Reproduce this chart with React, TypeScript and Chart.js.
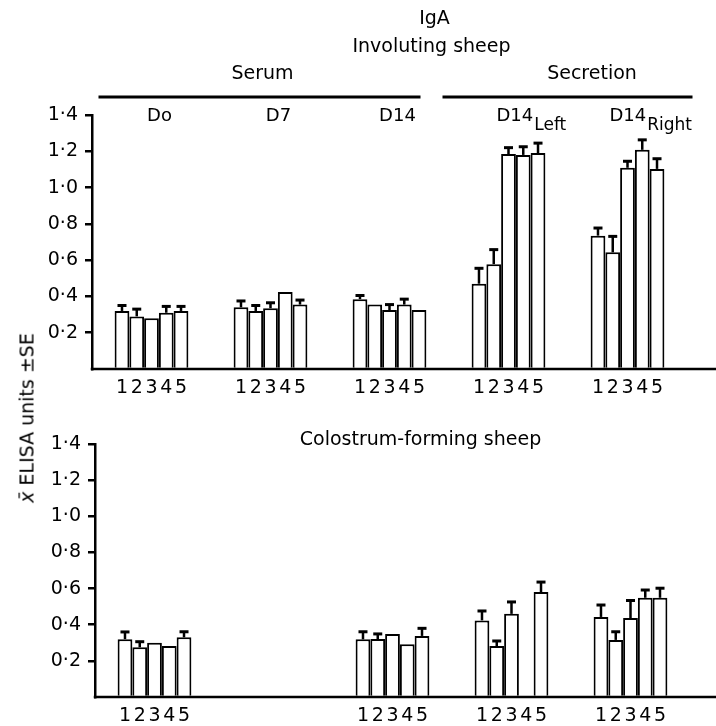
import React, { useEffect, useRef } from 'react';
import { Chart, registerables } from 'chart.js';

Chart.register(...registerables);

const FONT = '"DejaVu Sans", sans-serif';

// Categories
const groupLabels = ['Do', 'D7', 'D14', 'D14', 'D14'];
const groupSubscripts = ['', '', '', 'Left', 'Right'];
const animalLabels = ['1', '2', '3', '4', '5'];
const yTickValues = [0, 0.2, 0.4, 0.6, 0.8, 1.0, 1.2, 1.4];
const Y_MAX = 1.4;

// Involuting sheep (top panel), mean ELISA units for animals 1-5, and SE
const invDo = [0.32, 0.29, 0.28, 0.31, 0.32];
const invDoSE = [0.03, 0.04, 0, 0.035, 0.025];
const invD7 = [0.34, 0.32, 0.335, 0.425, 0.355];
const invD7SE = [0.035, 0.03, 0.03, 0, 0.025];
const invD14 = [0.385, 0.355, 0.325, 0.355, 0.325];
const invD14SE = [0.02, 0, 0.03, 0.03, 0];
const invD14Left = [0.47, 0.578, 1.185, 1.18, 1.19];
const invD14LeftSE = [0.085, 0.08, 0.035, 0.045, 0.055];
const invD14Right = [0.735, 0.643, 1.109, 1.208, 1.103];
const invD14RightSE = [0.042, 0.088, 0.036, 0.055, 0.056];

// Colostrum-forming sheep (bottom panel)
const colDo = [0.32, 0.275, 0.3, 0.282, 0.33];
const colDoSE = [0.04, 0.031, 0, 0, 0.031];
const colD7: (number | null)[] = [null, null, null, null, null];
const colD7SE = [0, 0, 0, 0, 0];
const colD14 = [0.319, 0.321, 0.349, 0.292, 0.338];
const colD14SE = [0.042, 0.028, 0, 0, 0.042];
const colD14Left: (number | null)[] = [0.424, 0.282, 0.46, null, 0.581];
const colD14LeftSE = [0.052, 0.028, 0.066, 0, 0.055];
const colD14Right = [0.443, 0.316, 0.437, 0.549, 0.549];
const colD14RightSE = [0.066, 0.045, 0.097, 0.043, 0.053];

const invMeans = [invDo, invD7, invD14, invD14Left, invD14Right];
const invSEs = [invDoSE, invD7SE, invD14SE, invD14LeftSE, invD14RightSE];
const colMeans = [colDo, colD7, colD14, colD14Left, colD14Right];
const colSEs = [colDoSE, colD7SE, colD14SE, colD14LeftSE, colD14RightSE];

type PanelLayout = {
  padTop: number;
  padRight: number;
  axisWidth: number;
  xHeight: number;
};

function buildChart(
  canvas: HTMLCanvasElement,
  means: (number | null)[][],
  ses: number[][],
  lay: PanelLayout,
  drawHeaders: (chart: any, ctx: CanvasRenderingContext2D) => void
) {
  const datasets = animalLabels.map((a, i) => ({
    label: 'Animal ' + a,
    data: means.map((g) => g[i]),
    backgroundColor: '#ffffff',
    borderColor: '#000000',
    borderWidth: 2,
    categoryPercentage: 0.62,
    barPercentage: 1,
  }));

  const extras = {
    id: 'extras',
    afterDatasetsDraw(chart: any) {
      const ctx: CanvasRenderingContext2D = chart.ctx;
      const ys = chart.scales.y;
      const a = chart.chartArea;
      ctx.save();
      ctx.strokeStyle = '#000';
      for (let i = 0; i < animalLabels.length; i++) {
        const meta = chart.getDatasetMeta(i);
        for (let j = 0; j < means.length; j++) {
          const m = means[j][i];
          const se = ses[j][i];
          if (m == null || !se) continue;
          const x = meta.data[j].x;
          const y0 = ys.getPixelForValue(m);
          const y1 = ys.getPixelForValue(m + se);
          ctx.lineWidth = 2.5;
          ctx.beginPath();
          ctx.moveTo(x, y0);
          ctx.lineTo(x, y1);
          ctx.stroke();
          ctx.lineWidth = 3;
          ctx.beginPath();
          ctx.moveTo(x - 4.5, y1);
          ctx.lineTo(x + 4.5, y1);
          ctx.stroke();
        }
      }
      // baseline (x axis line) across to the right edge
      ctx.lineWidth = 2.5;
      ctx.beginPath();
      ctx.moveTo(a.left - 1.25, a.bottom);
      ctx.lineTo(chart.width, a.bottom);
      ctx.stroke();
      ctx.restore();
    },
    afterDraw(chart: any) {
      const ctx: CanvasRenderingContext2D = chart.ctx;
      const a = chart.chartArea;
      ctx.save();
      // animal numbers under bars
      ctx.fillStyle = '#000';
      ctx.font = `19px ${FONT}`;
      ctx.textAlign = 'center';
      ctx.textBaseline = 'middle';
      for (let j = 0; j < means.length; j++) {
        if (!means[j].some((v) => v != null)) continue;
        for (let i = 0; i < animalLabels.length; i++) {
          const el = chart.getDatasetMeta(i).data[j];
          ctx.fillText(animalLabels[i], el.x, a.bottom + 19);
        }
      }
      drawHeaders(chart, ctx);
      ctx.restore();
    },
  };

  return new Chart(canvas, {
    type: 'bar',
    data: {
      labels: groupLabels.map((g, j) => g + groupSubscripts[j]),
      datasets,
    },
    options: {
      responsive: false,
      animation: false,
      layout: { padding: { top: lay.padTop, right: lay.padRight, left: 0, bottom: 0 } },
      plugins: {
        legend: { display: false },
        tooltip: { enabled: false },
        title: { display: false },
      },
      scales: {
        x: {
          type: 'category',
          ticks: { display: false },
          grid: { display: false },
          border: { display: false },
          afterFit: (s: any) => {
            s.height = lay.xHeight;
          },
        },
        y: {
          type: 'linear',
          min: 0,
          max: Y_MAX,
          afterBuildTicks: (s: any) => {
            s.ticks = yTickValues.map((v) => ({ value: v }));
          },
          ticks: {
            color: '#000',
            font: { family: FONT, size: 19 },
            padding: 7,
            callback: (v: any) => (Number(v) === 0 ? '' : Number(v).toFixed(1).replace('.', '·')),
          },
          grid: {
            drawOnChartArea: false,
            drawTicks: true,
            tickLength: 7,
            lineWidth: 2.5,
            color: (c: any) => (c.tick && c.tick.value === 0 ? 'rgba(0,0,0,0)' : '#000'),
          },
          border: { display: true, color: '#000', width: 2.5 },
          afterFit: (s: any) => {
            s.width = lay.axisWidth;
          },
        },
      },
    } as any,
    plugins: [extras],
  });
}

function drawTopHeaders(chart: any, ctx: CanvasRenderingContext2D) {
  const a = chart.chartArea;
  const xs = chart.scales.x;
  const c = (j: number) => xs.getPixelForValue(j);
  const mid = (a.left + a.right) / 2;
  ctx.fillStyle = '#000';
  ctx.textAlign = 'center';
  ctx.textBaseline = 'middle';
  ctx.font = `19px ${FONT}`;
  ctx.fillText('IgA', mid + 45, 19);
  ctx.fillText('Involuting sheep', mid + 42, 47);
  ctx.fillText('Serum', (c(0) + c(2)) / 2 - 8, 74);
  ctx.fillText('Secretion', (c(3) + c(4)) / 2 + 24, 74);
  ctx.strokeStyle = '#000';
  ctx.lineWidth = 3;
  ctx.beginPath();
  ctx.moveTo(c(0) - 53, 97);
  ctx.lineTo(c(2) + 31, 97);
  ctx.moveTo(c(3) - 66, 97);
  ctx.lineTo(c(4) + 65, 97);
  ctx.stroke();
  for (let j = 0; j < groupLabels.length; j++) {
    ctx.font = `18px ${FONT}`;
    if (!groupSubscripts[j]) {
      ctx.textAlign = 'center';
      ctx.fillText(groupLabels[j], c(j) + 8, 116);
    } else {
      const x0 = c(j) - (j === 3 ? 12 : 18);
      ctx.textAlign = 'left';
      ctx.fillText(groupLabels[j], x0, 116);
      const w = ctx.measureText(groupLabels[j]).width;
      ctx.font = `17px ${FONT}`;
      ctx.fillText(groupSubscripts[j], x0 + w + 1, 126);
    }
  }
}

function drawBottomHeaders(chart: any, ctx: CanvasRenderingContext2D) {
  const a = chart.chartArea;
  const mid = (a.left + a.right) / 2;
  ctx.fillStyle = '#000';
  ctx.textAlign = 'center';
  ctx.textBaseline = 'middle';
  ctx.font = `19px ${FONT}`;
  ctx.fillText('Colostrum-forming sheep', mid + 28, 40);
}

export default function App() {
  const topRef = useRef<HTMLCanvasElement>(null);
  const botRef = useRef<HTMLCanvasElement>(null);

  useEffect(() => {
    const top = buildChart(
      topRef.current!,
      invMeans,
      invSEs,
      { padTop: 115, padRight: 29, axisWidth: 92, xHeight: 31 },
      drawTopHeaders
    );
    const bot = buildChart(
      botRef.current!,
      colMeans,
      colSEs,
      { padTop: 44, padRight: 26, axisWidth: 95, xHeight: 29 },
      drawBottomHeaders
    );
    return () => {
      top.destroy();
      bot.destroy();
    };
  }, []);

  return (
    <div
      style={{
        position: 'absolute',
        left: 0,
        top: 0,
        width: 716,
        height: 726,
        background: '#fff',
        overflow: 'hidden',
      }}
    >
      <canvas
        ref={topRef}
        width={716}
        height={400}
        style={{ position: 'absolute', left: 0, top: 0, width: 716, height: 400 }}
      />
      <canvas
        ref={botRef}
        width={716}
        height={326}
        style={{ position: 'absolute', left: 0, top: 400, width: 716, height: 326 }}
      />
      <div
        style={{
          position: 'absolute',
          left: 27,
          top: 418,
          transform: 'translate(-50%, -50%) rotate(-90deg)',
          whiteSpace: 'nowrap',
          fontFamily: FONT,
          fontSize: 19,
          color: '#000',
          lineHeight: 1,
        }}
      >
        <span style={{ fontStyle: 'italic' }}>x̄</span> ELISA units ±SE
      </div>
    </div>
  );
}
